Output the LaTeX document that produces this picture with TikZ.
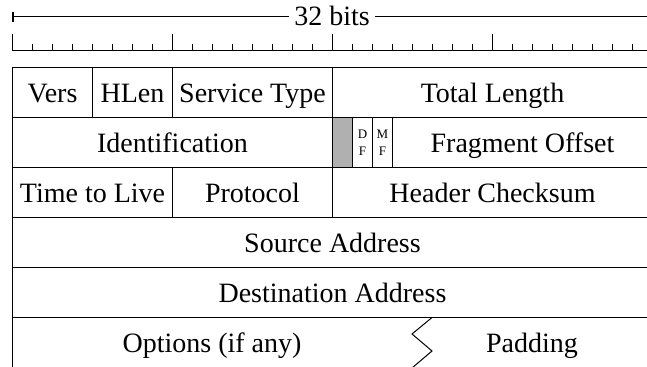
\documentclass[tikz,border=0pt]{standalone}
\usepackage{fontspec}
\setmainfont{Liberation Serif}
\usetikzlibrary{arrows.meta}
\definecolor{reservedgray}{RGB}{176,176,176}
\begin{document}
\begin{tikzpicture}[x=0.5pt, y=-0.5pt, line width=0.5pt,
  txt/.style={inner sep=0pt, text height=12.2pt, text depth=2.5pt,
    font=\fontsize{14}{16}\selectfont},
  field/.style={txt, draw, minimum height=25pt, anchor=north west},
  bits/.style={minimum width=#1*10pt},
  flagbox/.style={draw, inner sep=0pt, minimum height=25pt, minimum width=10pt,
    anchor=north west, align=center, font=\fontsize{6.5}{8.3}\selectfont},
  endbar/.tip={Bar[width=5pt, line width=1pt]}]
  \path[use as bounding box, clip] (0,0) rectangle (647,367);

  % width indicator
  \node[font=\fontsize{14}{16}\selectfont, fill=white, inner xsep=2.5pt,
    inner ysep=0pt, anchor=base] (width) at (332,26) {32 bits};
  \coordinate (spanL) at (12,16.7);
  \coordinate (spanR) at (652,16.7);
  \draw[endbar-] (spanL) -- (spanL -| width.west);
  \draw[-endbar] (spanR -| width.east) -- (spanR);

  % bit ruler
  \coordinate (rulerL) at (12,51);
  \coordinate (rulerR) at (652,51);
  \draw (rulerL) -- (rulerR);
  \foreach \i in {0,...,32} \draw (12+20*\i,51) -- ++(0,-7);
  \foreach \i in {0,8,...,32} \draw (12+20*\i,51) -- ++(0,-17);

  % row 1
  \node[field, bits=4]  (vers)    at (12,67.5)  {Vers};
  \node[field, bits=4]  (hlen)    at (92,67.5)  {HLen};
  \node[field, bits=8]  (service) at (172,67.5) {Service Type};
  \node[field, bits=16] (totlen)  at (332,67.5) {Total Length};

  % row 2
  \node[field, bits=16] (ident) at (12,117.5) {Identification};
  \node[flagbox, fill=reservedgray] (resv) at (332,117.5) {};
  \node[flagbox] (df) at (352,117.5) {D\\F};
  \node[flagbox] (mf) at (372,117.5) {M\\F};
  \node[field, bits=13] (fragoff) at (392,117.5) {Fragment Offset};

  % row 3
  \node[field, bits=8]  (ttl)      at (12,167.5)  {Time to Live};
  \node[field, bits=8]  (protocol) at (172,167.5) {Protocol};
  \node[field, bits=16] (checksum) at (332,167.5) {Header Checksum};

  % rows 4 and 5
  \node[field, bits=32] (src) at (12,217.5) {Source Address};
  \node[field, bits=32] (dst) at (12,267.5) {Destination Address};

  % row 6: options and padding split by a zigzag
  \node[field, bits=32] (optrow) at (12,317.5) {};
  \node[txt] (options) at (212,342.5) {Options (if any)};
  \node[txt] (padding) at (532,342.5) {Padding};
  \coordinate (zigtop) at (432,317.5);
  \draw (zigtop) -- ++(-20,16.5) -- ++(20,17) -- ++(-20,17);
\end{tikzpicture}
\end{document}
